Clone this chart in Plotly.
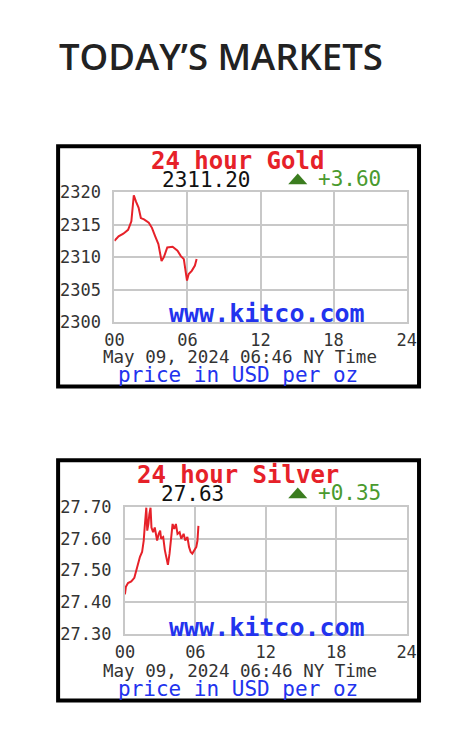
import plotly.graph_objects as go

# page is 459x735 with the browser's default 8px body margin
MARGIN = 8
W, H = 459 - 2 * MARGIN, 735 - 2 * MARGIN

# ---- data ----
gold_hours = [0, 0.34, 0.73, 1.12, 1.39, 1.51, 1.59, 1.78, 1.98, 2.17, 2.43, 2.82, 3.08, 3.35,
              3.61, 3.87, 4.06, 4.34, 4.78, 5.18, 5.44, 5.70, 5.88, 5.96, 6.10, 6.35, 6.61, 6.75]
gold_price = [2312.5, 2313.2, 2313.6, 2314.2, 2315.5, 2318.0, 2319.5, 2318.5, 2317.6, 2316.0,
              2315.8, 2315.3, 2314.5, 2313.2, 2312.0, 2309.4, 2310.0, 2311.5, 2311.6, 2311.0,
              2310.2, 2309.7, 2307.7, 2306.4, 2307.4, 2307.9, 2308.7, 2309.7]

silver_hours = [0, 0.08, 0.26, 0.54, 0.80, 0.94, 1.14, 1.28, 1.46, 1.60, 1.68, 1.74, 1.82, 1.90,
                2.00, 2.08, 2.18, 2.26, 2.40, 2.54, 2.66, 2.74, 2.88, 3.00, 3.08, 3.26, 3.40,
                3.54, 3.66, 3.80, 3.94, 4.06, 4.20, 4.34, 4.48, 4.66, 4.80, 5.00, 5.14, 5.32,
                5.46, 5.60, 5.74, 5.92, 6.08, 6.18, 6.26]
silver_price = [27.425, 27.449, 27.461, 27.466, 27.477, 27.497, 27.518, 27.543, 27.558, 27.594,
                27.635, 27.677, 27.697, 27.625, 27.646, 27.677, 27.697, 27.635, 27.620, 27.635,
                27.605, 27.594, 27.615, 27.625, 27.600, 27.605, 27.564, 27.538, 27.518, 27.553,
                27.615, 27.646, 27.630, 27.646, 27.615, 27.620, 27.600, 27.615, 27.594, 27.605,
                27.574, 27.558, 27.553, 27.566, 27.574, 27.594, 27.640]

hour_ticks = [0, 6, 12, 18, 24]
hour_labels = ["00", "06", "12", "18", "24"]
gold_ticks = [2300, 2305, 2310, 2315, 2320]
silver_ticks = [27.30, 27.40, 27.50, 27.60, 27.70]

panel_titles = ["24 hour Gold", "24 hour Silver"]
last_prices = ["2311.20", "27.63"]
changes = ["+3.60", "+0.35"]
timestamp = "May 09, 2024 06:46 NY Time"
units = "price in USD per oz"
site = "www.kitco.com"
heading = "TODAY\u2019S MARKETS"

RED = "#e62129"
BLUE = "#2233ee"
GREEN = "#4a9a2e"
DKGREEN = "#3b7d1f"
GRID = "#c8c8c8"
MONO = "DejaVu Sans Mono"


def px(x):
    return (x - MARGIN) / W


def py(y):
    return 1 - (y - MARGIN) / H


fig = go.Figure()
fig.add_trace(go.Scatter(x=gold_hours, y=gold_price, mode="lines",
                         line=dict(color=RED, width=2), xaxis="x", yaxis="y",
                         hoverinfo="skip", showlegend=False))
fig.add_trace(go.Scatter(x=silver_hours, y=silver_price, mode="lines",
                         line=dict(color=RED, width=2), xaxis="x2", yaxis="y2",
                         hoverinfo="skip", showlegend=False))

axis_common = dict(showgrid=True, gridcolor=GRID, gridwidth=2, showline=True,
                   linecolor=GRID, linewidth=2, mirror=True, zeroline=False,
                   ticks="", fixedrange=True,
                   tickfont=dict(family=MONO, size=17, color="#333333"))

fig.update_layout(
    width=W, height=H, autosize=False,
    margin=dict(l=0, r=0, t=0, b=0),
    paper_bgcolor="white", plot_bgcolor="white",
    xaxis=dict(domain=[px(109), px(415)], range=[0, 24], tickvals=hour_ticks,
               ticktext=hour_labels, anchor="y", ticklabelstandoff=1, **axis_common),
    yaxis=dict(domain=[py(321), py(187)], range=[2300, 2320], tickvals=gold_ticks,
               anchor="x", ticklabelstandoff=8, **axis_common),
    xaxis2=dict(domain=[px(120), px(415)], range=[0, 24], tickvals=hour_ticks,
                ticktext=hour_labels, anchor="y2", ticklabelstandoff=1, **axis_common),
    yaxis2=dict(domain=[py(642), py(510.7)], range=[27.30, 27.70], tickvals=silver_ticks,
                tickformat=".2f", anchor="x2", ticklabelstandoff=8, **axis_common),
)

shapes = []
annotations = []


def ann(text, x, y, size, color, family=MONO, weight="normal", xanchor="center"):
    annotations.append(dict(text=text, x=px(x), y=py(y), xref="paper", yref="paper",
                            xanchor=xanchor, yanchor="middle", showarrow=False,
                            font=dict(family=family, size=size, color=color, weight=weight)))


ann(heading, 49, 47, 36.5, "#222222", family="Open Sans", weight=600, xanchor="left")

for i, off in enumerate([0, 323]):
    # frame
    shapes.append(dict(type="rect", xref="paper", yref="paper",
                       x0=px(50), x1=px(428), y0=py(140 + off), y1=py(387 + off),
                       line=dict(color="black", width=4), fillcolor="rgba(0,0,0,0)"))
    # triangle
    shapes.append(dict(type="path", xref="paper", yref="paper",
                       path=f"M {px(291)} {py(179 + off)} L {px(311)} {py(179 + off)} L {px(301)} {py(168 + off)} Z",
                       fillcolor=DKGREEN, line=dict(width=0)))
    ann(panel_titles[i], 238, 155 + off, 24, RED, weight="bold")
    ann(last_prices[i], 205 if i == 0 else 191, 175 + off, 21, "#111111")
    ann(changes[i], 355, 174 + off, 21, GREEN)
    ann(site, 269, 312 + off, 25, BLUE, weight="bold")
    ann(timestamp, 240, 357 + off, 17.5, "#333333")
    ann(units, 238, 375 + off, 21, BLUE)

fig.update_layout(shapes=shapes, annotations=annotations)

fig.write_html("out.html", config={"displayModeBar": False, "staticPlot": True})
